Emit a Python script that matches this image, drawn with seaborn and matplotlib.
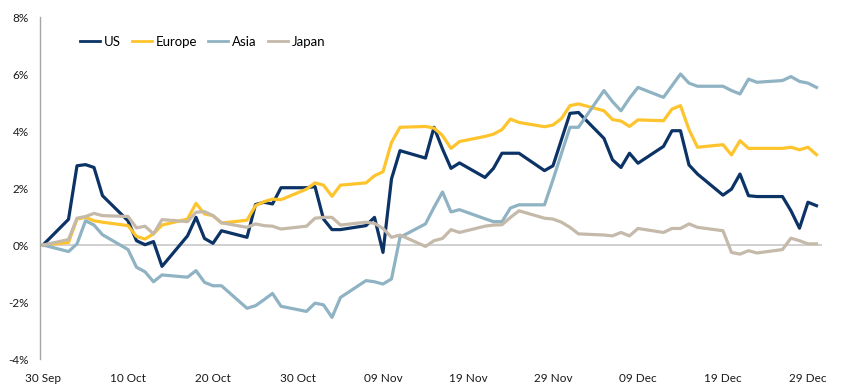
import pandas as pd
import matplotlib
matplotlib.use("Agg")
import matplotlib.pyplot as plt
import matplotlib.dates as mdates
import seaborn as sns

# business days, 30 Sep - 30 Dec 2022
dates = pd.bdate_range("2022-09-30", "2022-12-30")

us = [0.00, 0.90, 2.78, 2.82, 2.72, 1.73,
      0.85, 0.15, 0.01, 0.12, -0.75,
      0.32, 0.97, 0.23, 0.06, 0.50,
      0.27, 1.42, 1.50, 1.44, 2.01,
      2.01, 2.05, 0.91, 0.54, 0.54,
      0.68, 0.97, -0.26, 2.32, 3.31,
      3.05, 4.13, 3.37, 2.69, 2.88,
      2.37, 2.69, 3.22, 3.22, 3.22,
      2.61, 2.78, 3.70, 4.62, 4.65,
      3.74, 2.99, 2.72, 3.22, 2.87,
      3.46, 4.01, 4.01, 2.81, 2.49,
      1.75, 1.96, 2.49, 1.73, 1.70,
      1.70, 1.20, 0.59, 1.50, 1.38]

europe = [0.00, 0.09, 0.91, 0.97, 0.85, 0.80,
          0.68, 0.30, 0.21, 0.39, 0.70,
          0.91, 1.46, 1.09, 1.03, 0.77,
          0.87, 1.38, 1.52, 1.61, 1.59,
          1.96, 2.18, 2.10, 1.71, 2.10,
          2.18, 2.43, 2.57, 3.60, 4.13,
          4.16, 4.10, 3.84, 3.39, 3.63,
          3.81, 3.89, 4.05, 4.42, 4.30,
          4.15, 4.21, 4.44, 4.89, 4.95,
          4.71, 4.40, 4.35, 4.16, 4.39,
          4.36, 4.77, 4.89, 4.05, 3.43,
          3.52, 3.16, 3.66, 3.39, 3.39,
          3.39, 3.43, 3.34, 3.43, 3.17]

asia = [0.00, -0.23, 0.04, 0.85, 0.70, 0.36,
        -0.16, -0.78, -0.94, -1.29, -1.05,
        -1.13, -0.90, -1.31, -1.43, -1.43,
        -2.22, -2.13, -1.92, -1.70, -2.15,
        -2.33, -2.04, -2.10, -2.54, -1.84,
        -1.25, -1.29, -1.37, -1.19, 0.27,
        0.74, 1.32, 1.86, 1.16, 1.24,
        0.92, 0.82, 0.82, 1.30, 1.41,
        1.41, 2.29, 3.22, 4.13, 4.13,
        5.42, 5.03, 4.71, 5.15, 5.53,
        5.18, 5.59, 6.00, 5.68, 5.57,
        5.57, 5.42, 5.30, 5.82, 5.71,
        5.77, 5.91, 5.74, 5.68, 5.53]

japan = [0.00, 0.19, 0.94, 1.00, 1.11, 1.03,
         1.00, 0.60, 0.66, 0.39, 0.89,
         0.82, 1.15, 1.17, 1.03, 0.78,
         0.62, 0.74, 0.68, 0.66, 0.56,
         0.66, 0.94, 0.97, 0.97, 0.70,
         0.80, 0.76, 0.58, 0.27, 0.35,
         -0.05, 0.15, 0.23, 0.54, 0.44,
         0.66, 0.70, 0.71, 0.97, 1.20,
         0.94, 0.91, 0.80, 0.62, 0.39,
         0.35, 0.32, 0.44, 0.32, 0.58,
         0.44, 0.58, 0.58, 0.74, 0.62,
         0.50, -0.26, -0.32, -0.20, -0.28,
         -0.16, 0.24, 0.15, 0.04, 0.04]

series = ["US", "Europe", "Asia", "Japan"]
colors = {"US": "#0b3366", "Europe": "#fec42d", "Asia": "#8fb3c3", "Japan": "#c5b9aa"}

df = pd.DataFrame({"Date": dates, "US": us, "Europe": europe, "Asia": asia, "Japan": japan})
long_df = df.melt(id_vars="Date", var_name="Region", value_name="Return")

plt.rcParams["font.family"] = ["Lato", "DejaVu Sans"]

fig = plt.figure(figsize=(8.5, 3.91), dpi=100)
ax = fig.add_axes([40 / 850, 1 - 359 / 391, 782 / 850, 342 / 391])

ax.axhline(0, color="#c4c4c4", lw=1.1, zorder=0)
sns.lineplot(data=long_df, x="Date", y="Return", hue="Region", hue_order=series,
             palette=colors, linewidth=2.3, ax=ax)

start = pd.Timestamp("2022-09-30")
ax.set_xlim(start - pd.Timedelta(hours=8.5), start + pd.Timedelta(days=91.65))
ax.set_ylim(-4, 8)

yticks = [-4, -2, 0, 2, 4, 6, 8]
ax.set_yticks(yticks)
ax.set_yticklabels([f"{v}%" for v in yticks])
xticks = pd.date_range("2022-09-30", periods=10, freq="10D")
ax.set_xticks(xticks)
ax.xaxis.set_major_formatter(mdates.DateFormatter("%d %b"))
ax.tick_params(axis="both", length=0, labelsize=8.5, colors="#1a1a1a")
ax.tick_params(axis="y", pad=8)
ax.tick_params(axis="x", pad=10)

for s in ["top", "right", "bottom"]:
    ax.spines[s].set_visible(False)
ax.spines["left"].set_color("#a6a6a6")
ax.spines["left"].set_linewidth(1)

ax.set_xlabel("")
ax.set_ylabel("")

leg = ax.legend(loc="center left", bbox_to_anchor=(0.036, 0.927), ncol=4, frameon=False,
                fontsize=9.5, handlelength=1.5, handletextpad=0.3, columnspacing=0.85)
for line in leg.get_lines():
    line.set_linewidth(2)

fig.savefig("out.png", dpi=100, facecolor="white")
